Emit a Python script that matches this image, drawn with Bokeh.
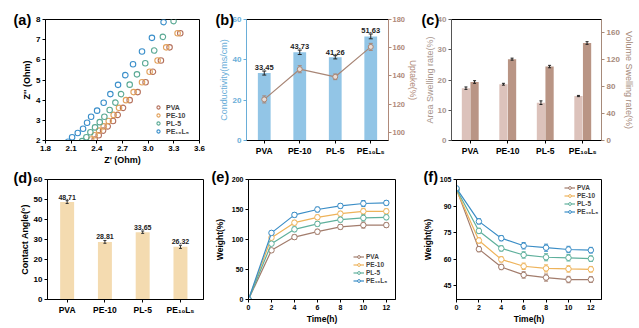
from bokeh.plotting import figure
from bokeh.models import (Range1d, LinearAxis, Title, FixedTicker, Legend, LegendItem,
                          PrintfTickFormatter)
from bokeh.layouts import row, column
from bokeh.embed import file_html
from bokeh.resources import INLINE
from bokeh.core.properties import value

FONT = "Liberation Sans"

samples = ["PVA", "PE-10", "PL-5", "PE₁₀L₅"]

# (a) Nyquist data
a_pva_x = [2.375, 2.422, 2.473, 2.527, 2.589, 2.644, 2.706, 2.784, 2.877, 2.970, 3.056, 3.149, 3.250, 3.375]
a_pva_y = [2.05, 2.26, 2.49, 2.70, 2.97, 3.27, 3.62, 4.00, 4.40, 4.89, 5.41, 5.97, 6.62, 7.32]
a_pe_x = [2.333, 2.375, 2.426, 2.480, 2.539, 2.597, 2.659, 2.741, 2.830, 2.928, 3.017, 3.110, 3.211, 3.344]
a_pe_y = [2.05, 2.26, 2.49, 2.70, 2.97, 3.27, 3.62, 4.00, 4.40, 4.89, 5.41, 5.97, 6.62, 7.32]
a_pl_x = [2.228, 2.278, 2.325, 2.379, 2.434, 2.488, 2.550, 2.617, 2.683, 2.784, 2.869, 2.966, 3.071, 3.172, 3.297]
a_pl_y = [1.97, 2.16, 2.41, 2.65, 2.91, 3.18, 3.51, 3.88, 4.30, 4.77, 5.28, 5.83, 6.46, 7.14, 7.92]
a_pel_x = [2.064, 2.111, 2.177, 2.239, 2.286, 2.333, 2.403, 2.480, 2.558, 2.648, 2.733, 2.823, 2.928, 3.044, 3.180]
a_pel_y = [1.94, 2.16, 2.37, 2.58, 2.88, 3.18, 3.48, 3.87, 4.30, 4.76, 5.24, 5.78, 6.41, 7.09, 7.87]

# (b) conductivity and uptake
cond = [33.45, 43.73, 41.26, 51.63]
cond_err = [1.0, 1.1, 0.8, 1.2]
uptake = [123.4, 144.8, 139.4, 160.6]
uptake_err = [2.5, 2.5, 2.0, 2.5]

# (c) swelling
area = [17.3, 18.6, 12.5, 14.7]
area_err = [0.4, 0.3, 0.6, 0.2]
volume = [87.0, 121.0, 110.0, 145.0]
volume_err = [2.0, 1.5, 1.8, 2.0]

# (d) contact angle
angle = [48.71, 28.81, 33.65, 26.32]
angle_err = [0.7, 0.7, 0.6, 0.8]

# (e) water uptake kinetics
time_h = [0, 2, 4, 6, 8, 10, 12]
e_pva = [0, 82, 104, 113, 121, 124, 124]
e_pe = [0, 103, 128, 137, 143, 147, 147]
e_pl = [0, 93, 117, 126, 133, 136, 137]
e_pel = [0, 111, 141, 150, 156, 160, 161]
e_err = [0, 3, 4, 4, 4, 5, 4]

# (f) water retention
f_pva = [99.5, 65.6, 55.5, 51.0, 49.5, 48.4, 48.4]
f_pe = [99.0, 70.5, 59.8, 55.9, 54.7, 54.4, 54.2]
f_pl = [99.5, 75.9, 66.0, 62.3, 61.0, 60.7, 60.2]
f_pel = [100.0, 81.3, 71.8, 67.5, 66.4, 65.4, 65.0]
f_err = [0, 1.5, 1.5, 1.8, 2.0, 1.8, 1.6]

C_PVA, C_PE, C_PL, C_PEL = "#a27c6c", "#eeb35a", "#5fb09c", "#3a8dc6"
A_COLS = ["#b4705c", "#e2a15a", "#5aa994", "#3b8fca"]


def base_fig(w, h, l, r, t, b, xr, yr):
    p = figure(width=w, height=h, x_range=xr, y_range=yr, output_backend="svg",
               toolbar_location=None, min_border_left=l, min_border_right=r,
               min_border_top=t, min_border_bottom=b)
    p.xgrid.visible = False
    p.ygrid.visible = False
    p.outline_line_color = "black"
    p.outline_line_width = 1
    p.outline_line_alpha = 1
    return p


def style_axis(ax, color="black", tcolor="black", lcolor="black", tsize="8px", lsize="9px",
               lstyle="bold", ticks=None):
    ax.axis_line_color = color
    ax.major_tick_line_color = color
    ax.minor_tick_line_color = None
    ax.major_tick_in = 0
    ax.major_tick_out = 3
    ax.major_label_text_font = FONT
    ax.major_label_text_font_size = tsize
    ax.major_label_text_font_style = "bold"
    ax.major_label_text_color = tcolor
    ax.major_label_standoff = 2
    ax.axis_label_text_font = FONT
    ax.axis_label_text_font_size = lsize
    ax.axis_label_text_font_style = lstyle
    ax.axis_label_text_color = lcolor
    ax.axis_label_standoff = 1
    if ticks is not None:
        ax.ticker = FixedTicker(ticks=ticks)


def panel_label(p, text, dx, standoff):
    p.add_layout(Title(text=text, align="left", offset=dx, vertical_align="bottom",
                       standoff=standoff, text_font=FONT, text_font_size="14.5px",
                       text_font_style="bold", text_color="black"), "above")


def err_bars(p, xs, ys, errs, color, yname="default", cap=4, lw=1):
    lo = [y - e for y, e in zip(ys, errs)]
    hi = [y + e for y, e in zip(ys, errs)]
    p.segment(x0=xs, y0=lo, x1=xs, y1=hi, line_color=color, line_width=lw, y_range_name=yname)
    p.scatter(x=list(xs) + list(xs), y=lo + hi, marker="dash", size=cap, line_color=color,
              line_width=lw, y_range_name=yname)


def cat_axis(p):
    style_axis(p.xaxis[0], tsize="8.5px", ticks=list(range(len(samples))))
    p.xaxis[0].major_label_overrides = {i: s for i, s in enumerate(samples)}


xs = list(range(len(samples)))

# ---------------- (a) ----------------
fa = base_fig(211, 170, 45, 12, 19, 27, Range1d(1.8, 3.6), Range1d(2, 8))
style_axis(fa.xaxis[0], ticks=[1.8, 2.1, 2.4, 2.7, 3.0, 3.3, 3.6])
fa.xaxis[0].formatter = PrintfTickFormatter(format="%.1f")
style_axis(fa.yaxis[0], ticks=[2, 3, 4, 5, 6, 7, 8])
fa.xaxis[0].axis_label = "Z' (Ohm)"
fa.yaxis[0].axis_label = "Z'' (Ohm)"
items = []
for (xv, yv), col, name in zip([(a_pva_x, a_pva_y), (a_pe_x, a_pe_y), (a_pl_x, a_pl_y), (a_pel_x, a_pel_y)],
                               A_COLS, samples):
    r = fa.scatter(xv, yv, marker="circle", size=5.5, fill_color=None, line_color=col, line_width=1.1)
    items.append(LegendItem(label=name, renderers=[r]))
leg = Legend(items=items, location=(109, 5), border_line_color=None, background_fill_alpha=0,
             label_text_font=FONT, label_text_font_size="7px", label_text_font_style="bold",
             glyph_width=8, glyph_height=8, label_height=8, spacing=0, padding=1,
             label_standoff=4, margin=0)
fa.add_layout(leg)
panel_label(fa, "(a)", -32, -16)

# ---------------- (b) ----------------
BLUE_AX = "#6aaed8"
BROWN_AX = "#b08a7a"
fb = base_fig(210, 170, 35, 26, 19, 30, Range1d(-0.5, 3.5), Range1d(0, 60))
fb.extra_y_ranges = {"up": Range1d(94.3, 180)}
cat_axis(fb)
style_axis(fb.yaxis[0], color=BLUE_AX, tcolor=BLUE_AX, lcolor=BLUE_AX, lstyle="normal",
           ticks=[0, 20, 40, 60])
fb.yaxis[0].axis_label = "Conductivity(ms/cm)"
rax = LinearAxis(y_range_name="up")
style_axis(rax, color=BROWN_AX, tcolor=BROWN_AX, lcolor=BROWN_AX, lstyle="normal", tsize="7.5px",
           lsize="8.5px", ticks=[100, 120, 140, 160, 180])
rax.axis_label = "Uptake(%)"
rax.major_label_standoff = 1
rax.axis_label_standoff = 0
fb.add_layout(rax, "right")
fb.vbar(x=xs, top=cond, width=0.36, bottom=0, fill_color="#92c5e6", line_color=None)
err_bars(fb, xs, cond, cond_err, "#222222")
fb.text(x=xs, y=[c + e for c, e in zip(cond, cond_err)], text=[f"{c:.2f}" for c in cond],
        text_align="center", text_baseline="bottom", y_offset=-1, text_font=value(FONT),
        text_font_size="7.5px", text_font_style="bold", text_color="#222222")
fb.line(xs, uptake, line_color="#a88676", line_width=1.2, y_range_name="up")
err_bars(fb, xs, uptake, uptake_err, "#a88676", yname="up")
fb.scatter(xs, uptake, marker="circle", size=5, fill_color="#e8dcd6", line_color="#a88676",
           line_width=1, y_range_name="up")
panel_label(fb, "(b)", -31, -16)

# ---------------- (c) ----------------
C_LAX = "#a8968e"
C_RAX = "#a68a7a"
fc = base_fig(218, 170, 30, 38, 19, 30, Range1d(-0.5, 3.5), Range1d(0, 40))
fc.extra_y_ranges = {"vol": Range1d(0, 180)}
cat_axis(fc)
style_axis(fc.yaxis[0], color="#555555", tcolor=C_LAX, lcolor=C_LAX, lstyle="normal",
           ticks=[0, 10, 20, 30, 40])
fc.yaxis[0].axis_label = "Area Swelling rate(%)"
fc.yaxis[0].axis_label_standoff = 0
rax2 = LinearAxis(y_range_name="vol")
style_axis(rax2, color=C_RAX, tcolor=C_RAX, lcolor=C_RAX, lstyle="normal",
           ticks=[0, 40, 80, 120, 160])
rax2.axis_label = "Volume Swelling rate(%)"
fc.add_layout(rax2, "right")
xl = [x - 0.115 for x in xs]
xr_ = [x + 0.115 for x in xs]
fc.vbar(x=xl, top=area, width=0.22, bottom=0, fill_color="#dcc2bb", line_color=None)
fc.vbar(x=xr_, top=volume, width=0.22, bottom=0, fill_color="#b99585", line_color=None,
        y_range_name="vol")
err_bars(fc, xl, area, area_err, "#222222", cap=3)
err_bars(fc, xr_, volume, volume_err, "#222222", yname="vol", cap=3)
panel_label(fc, "(c)", -30, -16)

# ---------------- (d) ----------------
fd = base_fig(211, 158, 47, 8, 7, 29, Range1d(-0.52, 3.61), Range1d(0, 60))
cat_axis(fd)
style_axis(fd.yaxis[0], ticks=[0, 10, 20, 30, 40, 50, 60])
fd.yaxis[0].axis_label = "Contact Angle(°)"
fd.vbar(x=xs, top=angle, width=0.37, bottom=0, fill_color="#f4dbb0", line_color=None)
err_bars(fd, xs, angle, angle_err, "#333333", cap=3)
fd.text(x=xs, y=[a + e for a, e in zip(angle, angle_err)], text=[f"{a:.2f}" for a in angle],
        text_align="center", text_baseline="bottom", y_offset=-1, text_font=value(FONT),
        text_font_size="7px", text_font_style="bold", text_color="#222222")
panel_label(fd, "(d)", -34, -12)


def kinetics(p, series, errs, loc):
    items = []
    for ys, col, name in zip(series, [C_PVA, C_PE, C_PL, C_PEL], samples):
        ln = p.line(time_h, ys, line_color=col, line_width=1.2)
        err_bars(p, time_h, ys, errs, col, cap=4)
        sc = p.scatter(time_h, ys, marker="circle", size=5.5, fill_color="white", line_color=col,
                       line_width=1)
        items.append(LegendItem(label=name, renderers=[ln, sc]))
    lg = Legend(items=items, location=loc, border_line_color=None, background_fill_alpha=0,
                label_text_font=FONT, label_text_font_size="6.5px", label_text_font_style="bold",
                glyph_width=11, glyph_height=7, label_height=7, spacing=1, padding=0,
                label_standoff=2, margin=0)
    p.add_layout(lg)


def time_axes(p, yticks):
    style_axis(p.xaxis[0], tsize="7px", lsize="8.5px", ticks=[0, 2, 4, 6, 8, 10, 12])
    style_axis(p.yaxis[0], tsize="7px", lsize="8.5px", ticks=yticks)
    p.xaxis[0].axis_label = "Time(h)"
    p.yaxis[0].axis_label = "Weight(%)"
    p.yaxis[0].axis_label_standoff = 4


# ---------------- (e) ----------------
fe = base_fig(208, 158, 36, 24, 9, 28, Range1d(0, 12.8), Range1d(0, 200))
time_axes(fe, [0, 50, 100, 150, 200])
kinetics(fe, [e_pva, e_pe, e_pl, e_pel], e_err, (105, 15))
panel_label(fe, "(e)", -37, -10)

# ---------------- (f) ----------------
ff = base_fig(220, 158, 33, 38, 9, 28, Range1d(0, 12.95), Range1d(37.1, 105))
time_axes(ff, [45, 60, 75, 90, 105])
kinetics(ff, [f_pva, f_pe, f_pl, f_pel], f_err, (108, 84))
panel_label(ff, "(f)", -33, -10)

layout = column(row(fa, fb, fc), row(fd, fe, ff))
open("out.html", "w").write(file_html(layout, INLINE))
